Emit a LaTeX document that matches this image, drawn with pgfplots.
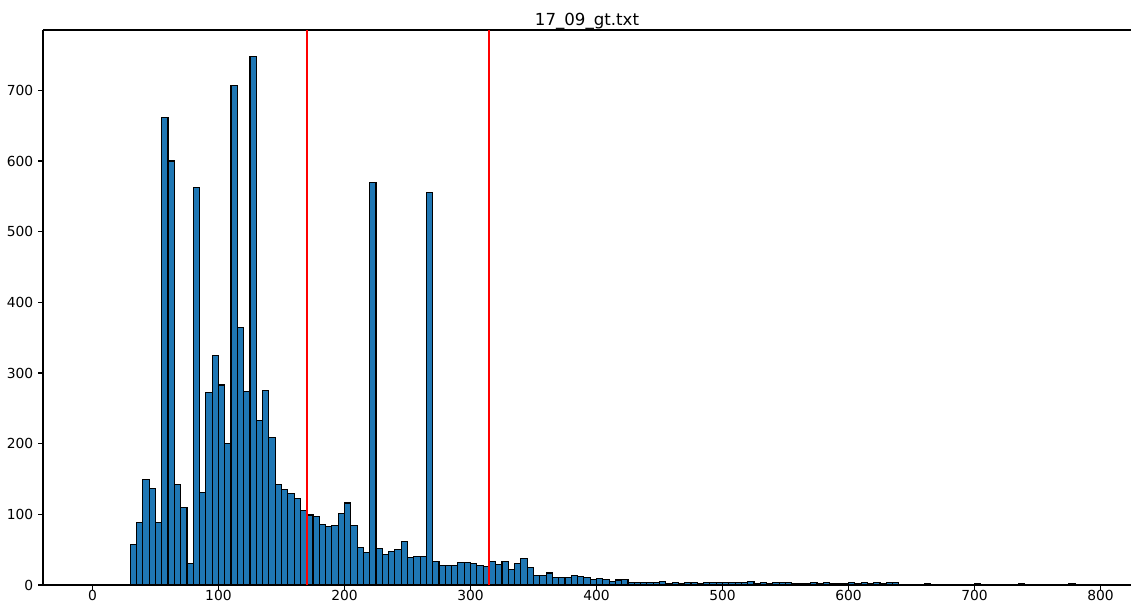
\documentclass[border=0pt]{standalone}
\usepackage{pgfplots}
\pgfplotsset{compat=1.18}
\usepackage{pgfplotstable}
\usepackage{fontspec}
\setmainfont{DejaVu Sans}
\definecolor{mplblue}{HTML}{1F77B4}
\pgfplotstableread{
x y
0 0
5 0
10 0
15 0
20 0
25 0
30 57
35 89
40 149
45 137
50 88
55 661
60 600
65 142
70 110
75 30
80 562
85 131
90 272
95 325
100 283
105 200
110 707
115 365
120 274
125 748
130 233
135 275
140 209
145 142
150 135
155 129
160 123
165 105
170 99
175 97
180 86
185 83
190 84
195 101
200 116
205 84
210 53
215 46
220 569
225 52
230 43
235 47
240 50
245 62
250 39
255 40
260 40
265 556
270 33
275 28
280 28
285 28
290 32
295 32
300 30
305 28
310 26
315 33
320 29
325 33
330 22
335 30
340 37
345 25
350 13
355 13
360 17
365 10
370 11
375 11
380 14
385 12
390 10
395 8
400 9
405 8
410 5
415 7
420 8
425 4
430 4
435 3
440 3
445 3
450 5
455 2
460 4
465 2
470 3
475 3
480 2
485 3
490 3
495 4
500 4
505 3
510 3
515 3
520 5
525 2
530 3
535 2
540 3
545 3
550 4
555 2
560 2
565 2
570 3
575 2
580 3
585 2
590 2
595 2
600 3
605 2
610 3
615 2
620 3
625 2
630 3
635 3
640 1
645 1
650 1
655 1
660 2
665 1
670 1
675 1
680 1
685 1
690 1
695 0
700 2
705 1
710 1
715 1
720 1
725 1
730 1
735 2
740 1
745 1
750 0
755 1
760 1
765 1
770 1
775 2
780 1
785 0
}\histdata
\begin{document}
\begin{tikzpicture}
\begin{axis}[
  name=main,
  scale only axis,
  width=10.88in, height=5.55in,
  xmin=-39.25, xmax=824.25,
  ymin=0, ymax=785.4,
  separate axis lines,
  axis x line*=box,
  axis y line*=left,
  xtick={0,100,...,800},
  ytick={0,100,...,700},
  tick align=outside,
  xtick pos=bottom, ytick pos=left,
  major tick length=3.5bp,
  every tick/.style={black, line width=0.8bp},
  axis line style={line width=0.8bp, -},
  every outer x axis line/.append style={-},
  every outer y axis line/.append style={-},
  tick label style={font=\fontsize{10}{12}\selectfont},
  /pgf/number format/assume math mode=true,
  xticklabel style={yshift=3bp},
  title={17\_09\_gt.txt},
  title style={font=\fontsize{12}{14}\selectfont, yshift=-9bp},
]
\addplot[ybar interval, fill=mplblue, draw=black, line width=0.8bp] table[x=x,y=y] {\histdata};
\addplot[draw=red, line width=1.5bp, sharp plot, mark=none] coordinates {(170,0) (170,785.4)};
\addplot[draw=red, line width=1.5bp, sharp plot, mark=none] coordinates {(315,0) (315,785.4)};
\end{axis}
\pgfresetboundingbox
\path (main.south west) ++(-0.43in,-0.18in) rectangle ++(11.32in,6.03in);
\end{tikzpicture}
\end{document}
